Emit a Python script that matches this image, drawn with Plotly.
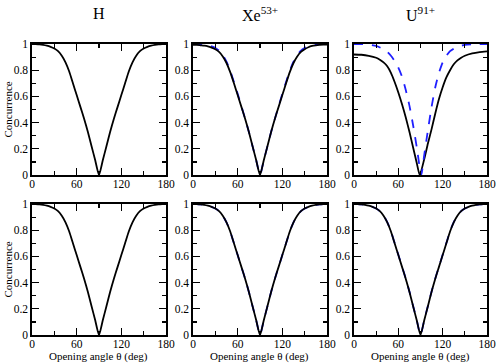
import plotly.graph_objects as go

# ---------------- data ----------------
panel_titles = ["H", "Xe<sup>53+</sup>", "U<sup>91+</sup>"]
x_tick_vals = [0, 60, 120, 180]
x_tick_text = ["0", "60", "120", "180"]
y_tick_vals = [0, 0.2, 0.4, 0.6, 0.8, 1.0]
y_tick_text = ["0", "0.2", "0.4", "0.6", "0.8", "1"]
x_title = "Opening angle θ (deg)"
y_title = "Concurrence"

theta = [0, 5, 10, 15, 20, 25, 30, 35, 40, 45, 50, 55, 60, 65, 70, 75, 80, 85, 90,
         95, 100, 105, 110, 115, 120, 125, 130, 135, 140, 145, 150, 155, 160, 165, 170, 175, 180]

# top row
h_top_black = [1.0, 0.999, 0.997, 0.993, 0.987, 0.978, 0.965, 0.945, 0.91, 0.86, 0.79, 0.70, 0.61, 0.52, 0.43, 0.33, 0.22, 0.11, 0.0,
               0.11, 0.22, 0.33, 0.43, 0.52, 0.61, 0.70, 0.79, 0.86, 0.91, 0.945, 0.965, 0.978, 0.987, 0.993, 0.997, 0.999, 1.0]
xe_top_black = [0.993, 0.993, 0.99, 0.987, 0.982, 0.973, 0.96, 0.94, 0.905, 0.855, 0.785, 0.70, 0.61, 0.52, 0.43, 0.33, 0.22, 0.11, 0.0,
                0.11, 0.22, 0.33, 0.43, 0.52, 0.61, 0.70, 0.785, 0.855, 0.905, 0.94, 0.96, 0.975, 0.985, 0.99, 0.993, 0.995, 0.995]
xe_top_blue = [1.0, 1.0, 0.999, 0.996, 0.99, 0.982, 0.97, 0.95, 0.915, 0.865, 0.795, 0.71, 0.62, 0.525, 0.43, 0.33, 0.22, 0.11, 0.0,
               0.11, 0.22, 0.33, 0.43, 0.525, 0.62, 0.71, 0.795, 0.865, 0.915, 0.95, 0.97, 0.982, 0.99, 0.996, 0.999, 1.0, 1.0]

u_black_theta = [0, 10, 20, 30, 35, 40, 45, 50, 55, 60, 65, 70, 75, 80, 85, 89,
                 95, 100, 105, 110, 115, 120, 125, 130, 135, 140, 145, 150, 160, 170, 180]
u_top_black = [0.92, 0.918, 0.91, 0.895, 0.88, 0.86, 0.83, 0.78, 0.71, 0.63, 0.54, 0.44, 0.33, 0.21, 0.09, 0.0,
               0.12, 0.24, 0.35, 0.47, 0.58, 0.67, 0.745, 0.80, 0.845, 0.875, 0.895, 0.91, 0.928, 0.938, 0.943]
u_blue_theta = [0, 10, 15, 20, 30, 40, 45, 50, 55, 60, 65, 70, 75, 80, 85, 91,
                95, 100, 105, 110, 115, 120, 125, 130, 135, 140, 150, 160, 170, 180]
u_top_blue = [1.0, 1.0, 0.999, 0.996, 0.985, 0.96, 0.94, 0.91, 0.87, 0.82, 0.75, 0.65, 0.53, 0.38, 0.21, 0.0,
              0.15, 0.34, 0.52, 0.67, 0.78, 0.86, 0.91, 0.945, 0.965, 0.98, 0.993, 0.998, 1.0, 1.0]

# bottom row
h_bot_black = [1.0, 0.999, 0.997, 0.993, 0.987, 0.978, 0.965, 0.945, 0.91, 0.86, 0.79, 0.70, 0.61, 0.52, 0.43, 0.33, 0.22, 0.11, 0.0,
               0.11, 0.22, 0.33, 0.43, 0.52, 0.61, 0.70, 0.79, 0.86, 0.91, 0.945, 0.965, 0.978, 0.987, 0.993, 0.997, 0.999, 1.0]
xe_bot_black = [1.0, 0.999, 0.997, 0.993, 0.987, 0.978, 0.965, 0.945, 0.91, 0.86, 0.79, 0.70, 0.61, 0.52, 0.43, 0.33, 0.22, 0.11, 0.0,
                0.11, 0.22, 0.33, 0.43, 0.52, 0.61, 0.70, 0.79, 0.86, 0.91, 0.945, 0.965, 0.978, 0.987, 0.993, 0.997, 0.999, 1.0]
xe_bot_blue = [1.0, 0.999, 0.997, 0.993, 0.987, 0.978, 0.965, 0.945, 0.91, 0.86, 0.79, 0.70, 0.61, 0.52, 0.43, 0.33, 0.22, 0.11, 0.0,
               0.11, 0.22, 0.33, 0.43, 0.52, 0.61, 0.70, 0.79, 0.86, 0.91, 0.945, 0.965, 0.978, 0.987, 0.993, 0.997, 0.999, 1.0]
u_bot_black = [1.0, 0.999, 0.997, 0.993, 0.987, 0.978, 0.965, 0.945, 0.91, 0.86, 0.79, 0.70, 0.61, 0.52, 0.43, 0.33, 0.22, 0.11, 0.0,
               0.11, 0.22, 0.33, 0.43, 0.52, 0.61, 0.70, 0.79, 0.86, 0.91, 0.945, 0.965, 0.978, 0.987, 0.993, 0.997, 0.999, 1.0]
u_bot_blue = [1.0, 0.999, 0.997, 0.993, 0.987, 0.978, 0.965, 0.945, 0.912, 0.862, 0.792, 0.702, 0.612, 0.522, 0.432, 0.332, 0.222, 0.112, 0.0,
              0.112, 0.222, 0.332, 0.432, 0.522, 0.612, 0.702, 0.792, 0.862, 0.912, 0.945, 0.965, 0.978, 0.987, 0.993, 0.997, 0.999, 1.0]

# ---------------- figure ----------------
W, H = 498, 364
FONT = "Liberation Serif, Times New Roman, serif"
BLUE = "#1f1fff"

x_domains = [[32 / W, 166 / W], [193 / W, 327 / W], [354 / W, 487 / W]]
y_domains = [[1 - 175 / H, 1 - 44 / H], [1 - 335 / H, 1 - 204 / H]]

fig = go.Figure()

def add(idx, x, y, color, dash, width=1.8):
    fig.add_trace(go.Scatter(
        x=x, y=y, mode="lines",
        line=dict(color=color, dash=dash, width=width, shape="spline", smoothing=0.6),
        xaxis="x" + ("" if idx == 1 else str(idx)),
        yaxis="y" + ("" if idx == 1 else str(idx)),
        showlegend=False, hoverinfo="skip"))

# top row (axes 1..3)
add(1, theta, h_top_black, "black", "solid")
add(2, theta, xe_top_blue, BLUE, "dash")
add(2, theta, xe_top_black, "black", "solid")
add(3, u_black_theta, u_top_black, "black", "solid")
add(3, u_blue_theta, u_top_blue, BLUE, "dash")
# bottom row (axes 4..6)
add(4, theta, h_bot_black, "black", "solid")
add(5, theta, xe_bot_blue, BLUE, "dash")
add(5, theta, xe_bot_black, "black", "solid")
add(6, theta, u_bot_blue, BLUE, "dash")
add(6, theta, u_bot_black, "black", "solid")

layout = dict(
    width=W, height=H,
    margin=dict(l=0, r=0, t=0, b=0, autoexpand=False),
    paper_bgcolor="white", plot_bgcolor="white",
    font=dict(family=FONT, size=11, color="black"),
    showlegend=False,
)

for r in range(2):
    for c in range(3):
        idx = r * 3 + c + 1
        xname = "xaxis" + ("" if idx == 1 else str(idx))
        yname = "yaxis" + ("" if idx == 1 else str(idx))
        xref = "x" + ("" if idx == 1 else str(idx))
        yref = "y" + ("" if idx == 1 else str(idx))
        layout[xname] = dict(
            domain=x_domains[c], anchor=yref, range=[0, 180], automargin=False,
            tickmode="array", tickvals=x_tick_vals, ticktext=x_tick_text,
            ticks="inside", ticklen=7, tickwidth=1.2, tickcolor="black",
            ticklabelstandoff=-2,
            minor=dict(ticks="inside", ticklen=4, tickwidth=1.2, tickcolor="black",
                       tickmode="array", tickvals=[30, 90, 150]),
            showline=True, linewidth=1.6, linecolor="black", mirror="ticks",
            showgrid=False, zeroline=False,
            tickfont=dict(family=FONT, size=11.5, color="black"),
        )
        layout[yname] = dict(
            domain=y_domains[r], anchor=xref, range=[0, 1], automargin=False,
            tickmode="array", tickvals=y_tick_vals, ticktext=y_tick_text,
            ticks="inside", ticklen=7, tickwidth=1.2, tickcolor="black",
            minor=dict(ticks="inside", ticklen=4, tickwidth=1.2, tickcolor="black",
                       tickmode="array", tickvals=[0.1, 0.3, 0.5, 0.7, 0.9]),
            showline=True, linewidth=1.6, linecolor="black", mirror="ticks",
            showgrid=False, zeroline=False,
            tickfont=dict(family=FONT, size=11.5, color="black"),
        )

annotations = []
for c in range(3):
    xc = (x_domains[c][0] + x_domains[c][1]) / 2
    annotations.append(dict(
        text=panel_titles[c], xref="paper", yref="paper",
        x=xc, y=1 - 14 / H,
        xanchor="center", yanchor="middle", showarrow=False,
        font=dict(family=FONT, size=16, color="black")))
    annotations.append(dict(
        text=x_title, xref="paper", yref="paper",
        x=xc, y=1 - 356 / H,
        xanchor="center", yanchor="middle", showarrow=False,
        font=dict(family=FONT, size=11, color="black")))
for r in range(2):
    annotations.append(dict(
        text=y_title, xref="paper", yref="paper",
        x=7 / W, y=(y_domains[r][0] + y_domains[r][1]) / 2,
        xanchor="center", yanchor="middle", textangle=-90, showarrow=False,
        font=dict(family=FONT, size=11, color="black")))
layout["annotations"] = annotations

fig.update_layout(**layout)
fig.write_html("out.html", config={"displayModeBar": False, "staticPlot": True},
               post_script="document.body.style.margin='0px';document.body.style.overflow='hidden';")
